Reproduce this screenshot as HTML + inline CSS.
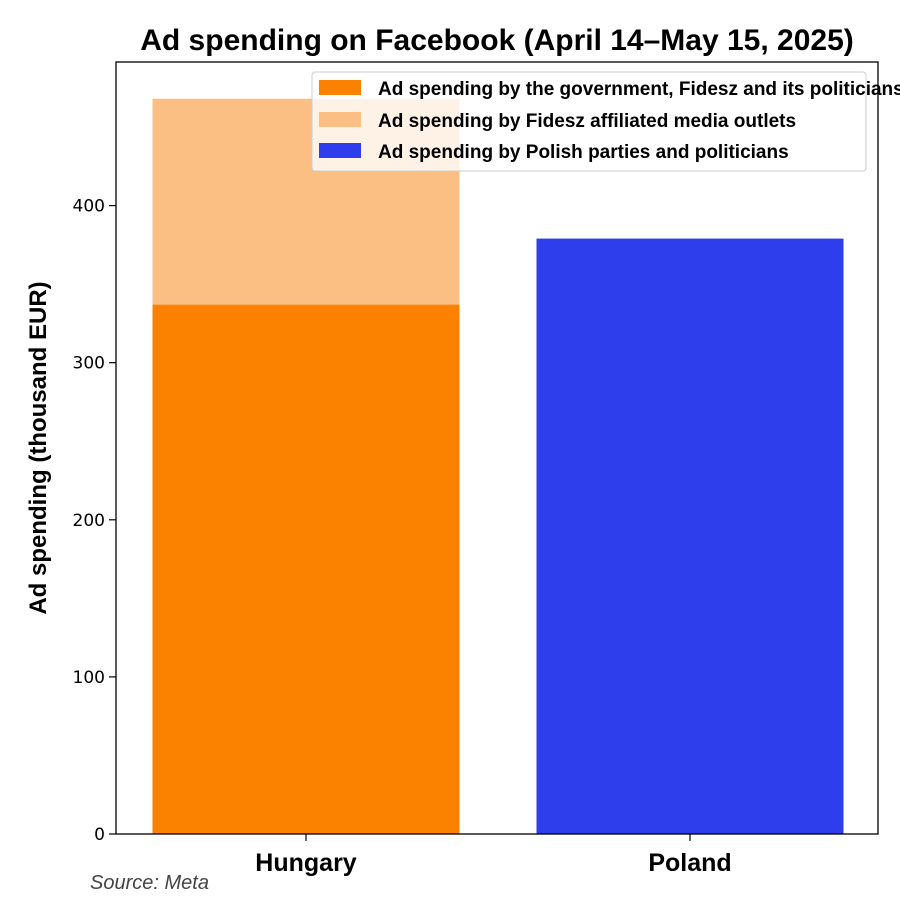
<!DOCTYPE html>
<html><head><meta charset="utf-8"><style>
body{margin:0;background:#fff;}
svg text{font-family:"Liberation Sans Narrow","Liberation Sans",sans-serif;}
</style></head><body>
<svg id="chart" width="900" height="900" viewBox="0 0 900 900" xmlns="http://www.w3.org/2000/svg">
<rect width="900" height="900" fill="#fff"/>
<text x="497" y="50" text-anchor="middle" font-size="30" font-weight="bold">Ad spending on Facebook (April 14–May 15, 2025)</text>
<g id="bars"></g>
<g id="axes"></g>
<text transform="translate(46,448) rotate(-90)" text-anchor="middle" font-size="24" font-weight="bold">Ad spending (thousand EUR)</text>
<text x="90" y="889" font-size="20" font-style="italic" fill="#444" style="font-family:'Liberation Sans Narrow','Liberation Sans',sans-serif">Source: Meta</text>
<g>
<rect x="312" y="72" width="554" height="99" fill="#fff" fill-opacity="0.8" stroke="#ccc" rx="3"/>
<rect x="319" y="80" width="42" height="15" fill="#fb8200"/>
<text x="378" y="95" font-size="19" font-weight="bold">Ad spending by the government, Fidesz and its politicians</text>
<rect x="319" y="112" width="42" height="15" fill="#fbbf83"/>
<text x="378" y="127" font-size="19" font-weight="bold">Ad spending by Fidesz affiliated media outlets</text>
<rect x="319" y="143" width="42" height="15" fill="#2f3eec"/>
<text x="378" y="158" font-size="19" font-weight="bold">Ad spending by Polish parties and politicians</text>
</g>
</svg>
<script>
const categories = ["Hungary", "Poland"];
const governmentValues = [337, 0];
const mediaValues = [131, 0];
const polandValues = [0, 379];
const yTicks = [0, 100, 200, 300, 400];

const NS = "http://www.w3.org/2000/svg";
const L = 116, R = 878, T = 62, B = 834;
const yMax = 491.4;
function y(v){ return B - v / yMax * (B - T); }
function xc(i){ return 306 + i * 384; }
const bw = 307;
const bars = document.getElementById('bars');
const axes = document.getElementById('axes');
function mk(tag, attrs, parent){ const e = document.createElementNS(NS, tag); for (const k in attrs) e.setAttribute(k, attrs[k]); parent.appendChild(e); return e; }

categories.forEach((c, i) => {
  let base = 0;
  [[governmentValues, '#fb8200', 'government'], [mediaValues, '#fbbf83', 'media'], [polandValues, '#2f3eec', 'poland']].forEach(([arr, col, nm]) => {
    const v = arr[i];
    if (v > 0) {
      const r = mk('rect', {x: xc(i) - bw/2, y: y(base + v), width: bw, height: y(base) - y(base + v), fill: col}, bars);
      
      
    }
    base += v;
  });
  const t = mk('line', {x1: xc(i), x2: xc(i), y1: B, y2: B + 7, stroke: '#000', 'stroke-width': 1.2}, axes);
  
  
  const lb = mk('text', {x: xc(i), y: B + 37, 'text-anchor': 'middle', 'font-size': 25, 'font-weight': 'bold'}, axes);
  lb.textContent = c;
  
  
});

yTicks.forEach(v => {
  const t = mk('line', {x1: L - 7, x2: L, y1: y(v), y2: y(v), stroke: '#000', 'stroke-width': 1.2}, axes);
  
  
  const lb = mk('text', {x: L - 11, y: y(v) + 6, 'text-anchor': 'end', 'font-size': 17, style: 'font-family:"DejaVu Sans",sans-serif'}, axes);
  lb.textContent = v;
  
  
});

const frame = mk('rect', {x: L, y: T, width: R - L, height: B - T, fill: 'none', stroke: '#000', 'stroke-width': 1.3}, axes);


</script>
</body></html>
